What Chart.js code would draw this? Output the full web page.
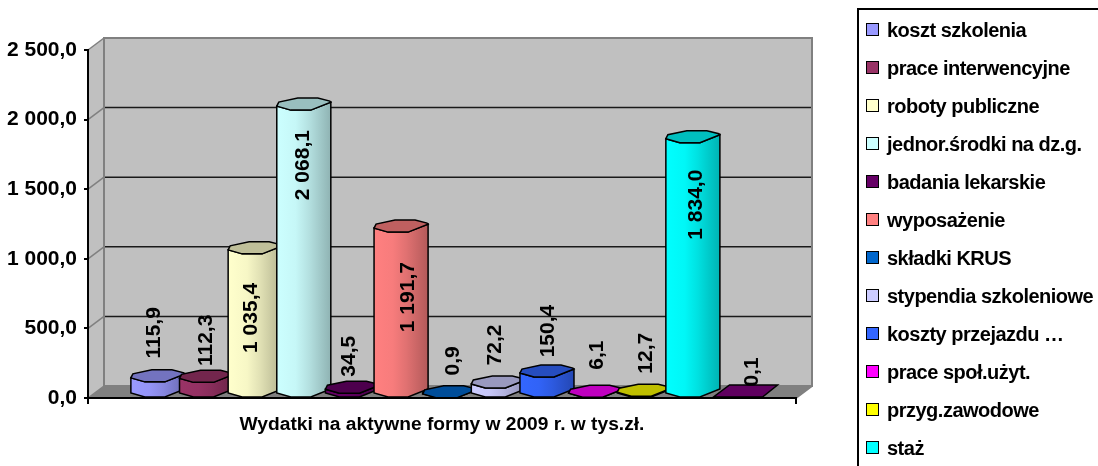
<!DOCTYPE html>
<html lang="pl">
<head>
<meta charset="utf-8">
<title>Wydatki na aktywne formy</title>
<script src="https://cdn.jsdelivr.net/npm/chart.js"></script>
<style>
    html, body { margin: 0; padding: 0; background: #fff; overflow: hidden; }
    #wrap { position: relative; width: 1098px; height: 466px; overflow: hidden; }
    #legend {
        position: absolute; left: 857px; top: 8px; width: 300px; height: 500px;
        border: 2px solid #000; box-sizing: border-box;
        font: bold 20px "Liberation Sans", Arial, sans-serif; letter-spacing: -0.5px; color: #000;
    }
    #legend div { position: absolute; left: 7px; height: 20px; line-height: 20px; white-space: pre; }
    #legend i { position: absolute; left: 0; top: 3px; width: 13px; height: 13px; border: 1.5px solid #000; box-sizing: border-box; }
    #legend span { margin-left: 21px; }
</style>
</head>
<body>
<div id="wrap">
    <canvas id="chart" width="1098" height="466"></canvas>
    <div id="legend"></div>
</div>
<script>
"use strict";

const categoryTitle = 'Wydatki na aktywne formy w 2009 r. w tys.zł.';
const seriesNames = ['koszt szkolenia', 'prace interwencyjne', 'roboty publiczne', 'jednor.środki na dz.g.',
    'badania lekarskie', 'wyposażenie', 'składki KRUS', 'stypendia szkoleniowe', 'koszty przejazdu …',
    'prace społ.użyt.', 'przyg.zawodowe', 'staż', ''];
const seriesValues = [115.9, 112.3, 1035.4, 2068.1, 34.5, 1191.7, 0.9, 72.2, 150.4, 6.1, 12.7, 1834.0, 0.1];
const seriesColors = ['#9999FF', '#993366', '#FFFFCC', '#CCFFFF', '#660066', '#FF8080', '#0066CC',
    '#CCCCFF', '#3366FF', '#FF00FF', '#FFFF00', '#00FFFF', '#800080'];

// przesuniecie etykiet wzgledem slupka
const labelShift = [-49, -42, 64, 55, -37, 65, -37, -43, -46, -42, -43, 62, -26];
const labelShiftX = [-2, 1, -2, 1, -2, 9, 5, -1, 3, 3, 4, 5, 12];

const DEPTH_X = 16, DEPTH_Y = 12, BAR_SHIFT = 5;
const FONT = '"Liberation Sans", Arial, sans-serif';

function fmt(v) {
    const parts = v.toFixed(1).split('.');
    return parts[0].replace(/\B(?=(\d{3})+$)/g, ' ') + ',' + parts[1];
}

function shade(hex, f) {
    const r = parseInt(hex.substring(1, 3), 16) * f;
    const g = parseInt(hex.substring(3, 5), 16) * f;
    const b = parseInt(hex.substring(5, 7), 16) * f;
    return `rgb(${Math.round(r)}, ${Math.round(g)}, ${Math.round(b)})`;
}

function poly(ctx, pts, fill, stroke, width) {
    ctx.beginPath();
    pts.forEach((p, i) => i ? ctx.lineTo(p[0], p[1]) : ctx.moveTo(p[0], p[1]));
    ctx.closePath();
    if (fill) { ctx.fillStyle = fill; ctx.fill(); }
    if (stroke) { ctx.strokeStyle = stroke; ctx.lineWidth = width; ctx.stroke(); }
}

const wallsPlugin = {
    id: 'walls',
    beforeDraw(chart) {
        const { ctx, chartArea: a, scales } = chart;
        const dx = DEPTH_X, dy = DEPTH_Y;
        ctx.save();
        poly(ctx, [[a.left + dx, a.top - dy], [a.right + dx, a.top - dy], [a.right + dx, a.bottom - dy], [a.left + dx, a.bottom - dy]], '#C0C0C0');
        poly(ctx, [[a.left, a.top], [a.left + dx, a.top - dy], [a.left + dx, a.bottom - dy], [a.left, a.bottom]], '#C0C0C0');
        poly(ctx, [[a.left, a.bottom], [a.left + dx, a.bottom - dy], [a.right + dx, a.bottom - dy], [a.right, a.bottom]], '#808080');

        // linie siatki na tylnej scianie
        scales.y.ticks.forEach((t, i) => {
            const y = scales.y.getPixelForTick(i);
            ctx.strokeStyle = '#808080';
            ctx.lineWidth = 1.5;
            ctx.beginPath();
            ctx.moveTo(a.left, y);
            ctx.lineTo(a.left + dx, y - dy);
            ctx.stroke();
            if (t.value > 0 && t.value < 2500) {
                ctx.strokeStyle = '#1a1a1a';
                ctx.lineWidth = 1.5;
                ctx.beginPath();
                ctx.moveTo(a.left + dx, y - dy);
                ctx.lineTo(a.right + dx, y - dy);
                ctx.stroke();
            }
        });

        ctx.strokeStyle = '#808080';
        ctx.lineWidth = 2;
        ctx.beginPath();
        ctx.moveTo(a.left + dx, a.bottom - dy);
        ctx.lineTo(a.left + dx, a.top - dy);
        ctx.lineTo(a.right + dx, a.top - dy);
        ctx.lineTo(a.right + dx, a.bottom - dy);
        ctx.lineTo(a.left + dx, a.bottom - dy);
        ctx.moveTo(a.right, a.bottom);
        ctx.lineTo(a.right + dx, a.bottom - dy);
        ctx.stroke();
        ctx.restore();
    }
};

// slupki "cylindryczne" - wspolrzedne bierzemy z elementow Chart.js
const cylinderPlugin = {
    id: 'cylinders',
    afterDatasetsDraw(chart) {
        const { ctx } = chart;
        chart.data.datasets.forEach((ds, i) => {
            const el = chart.getDatasetMeta(i).data[0];
            const k = el.width / 48.6;
            const L = el.x - el.width / 2 + BAR_SHIFT;
            const yv = el.y, yb = el.base;
            const color = ds.faceColor;
            const X = d => L + d * k;
            ctx.save();
            if (ds.data[0] < 0.5) {
                poly(ctx, [[X(-1), yb], [X(48), yb], [X(63), yb - 12], [X(15), yb - 12]], shade(color, 0.75), '#000', 1.5);
            } else {
                const grad = ctx.createLinearGradient(X(0), 0, X(54), 0);
                grad.addColorStop(0, color);
                grad.addColorStop(0.35, shade(color, 0.97));
                grad.addColorStop(0.6, shade(color, 0.88));
                grad.addColorStop(1, shade(color, 0.7));
                poly(ctx, [[X(0), yv - 4], [X(0), yb - 4], [X(14), yb], [X(34), yb], [X(54), yb - 8], [X(54), yv - 8], [X(34), yv], [X(14), yv]], grad, '#000', 1.5);
                poly(ctx, [[X(0), yv - 4], [X(14), yv], [X(34), yv], [X(54), yv - 8], [X(53), yv - 9], [X(41), yv - 12], [X(21), yv - 12], [X(2), yv - 8]], shade(color, 0.75), '#000', 1.5);
            }
            ctx.restore();
        });

        // wartosci obrocone o 90 stopni
        ctx.save();
        ctx.fillStyle = '#000';
        ctx.font = 'bold 21px ' + FONT;
        ctx.textAlign = 'center';
        ctx.textBaseline = 'middle';
        chart.data.datasets.forEach((ds, i) => {
            const el = chart.getDatasetMeta(i).data[0];
            ctx.save();
            ctx.translate(el.x + BAR_SHIFT + 1 + labelShiftX[i], el.y + labelShift[i]);
            ctx.rotate(-Math.PI / 2);
            ctx.fillText(fmt(ds.data[0]), 0, 0);
            ctx.restore();
        });
        ctx.restore();
    }
};

const datasets = seriesNames.map((name, i) => ({
    label: name,
    data: [seriesValues[i]],
    faceColor: seriesColors[i],
    backgroundColor: 'transparent',
    borderWidth: 0
}));

new Chart(document.getElementById('chart'), {
    type: 'bar',
    data: { labels: [categoryTitle], datasets: datasets },
    plugins: [wallsPlugin, cylinderPlugin],
    options: {
        responsive: false,
        animation: false,
        layout: { padding: { top: 50, right: 302, left: 0, bottom: 0 } },
        datasets: { bar: { categoryPercentage: 0.893, barPercentage: 1 } },
        plugins: { legend: { display: false }, tooltip: { enabled: false } },
        scales: {
            x: {
                afterFit: s => { s.height = 68; },
                border: { color: '#000', width: 2 },
                grid: { drawOnChartArea: false, color: '#000', lineWidth: 2, tickLength: 6 },
                ticks: { color: '#000', padding: 9, maxRotation: 0, font: { family: FONT, size: 19.2, weight: 'bold' } }
            },
            y: {
                min: 0,
                max: 2500,
                afterFit: s => { s.width = 88; },
                border: { color: '#000', width: 2 },
                grid: { drawOnChartArea: false, color: '#000', lineWidth: 2, tickLength: 4 },
                ticks: {
                    stepSize: 500,
                    color: '#000',
                    padding: 7,
                    font: { family: FONT, size: 21, weight: 'bold' },
                    callback: v => fmt(v)
                }
            }
        }
    }
});

// legenda - 12 pozycji miesci sie w oknie, obramowanie wychodzi poza dol
const legendBox = document.getElementById('legend');
seriesNames.forEach((name, i) => {
    if (!name) return;
    const row = document.createElement('div');
    row.style.top = (10 + i * 38) + 'px';
    row.innerHTML = `<i style="background:${seriesColors[i]}"></i><span>${name}</span>`;
    legendBox.appendChild(row);
});
</script>
</body>
</html>
